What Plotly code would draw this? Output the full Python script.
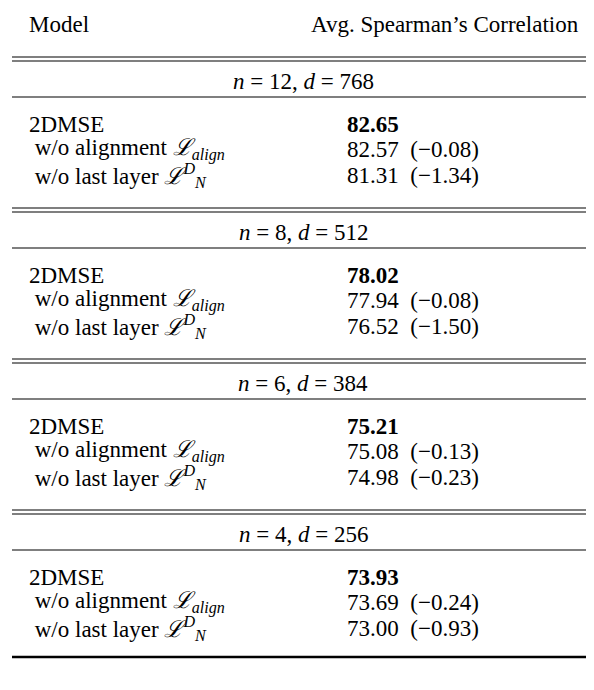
import plotly.graph_objects as go

## Table contents
sections = ["<i>n</i> = 12, <i>d</i> = 768", "<i>n</i> = 8, <i>d</i> = 512",
            "<i>n</i> = 6, <i>d</i> = 384", "<i>n</i> = 4, <i>d</i> = 256"]
row_labels = ["2DMSE",
              " w/o alignment <i>ℒ<sub>align</sub></i>",
              " w/o last layer <i>ℒ<sup>D</sup><sub>N</sub></i>"]
full_scores = [82.65, 78.02, 75.21, 73.93]
align_scores = [82.57, 77.94, 75.08, 73.69]
last_scores = [81.31, 76.52, 74.98, 73.00]

W, H = 594, 690
OFF = 8  # page body margin
FONT = "Liberation Serif"
FS = 23
pitch = 151

fig = go.Figure()
ann = []
shapes = []

def rule(y, w=1.5):
    shapes.append(dict(type="line", x0=12, x1=W, y0=y, y1=y,
                       line=dict(color="black", width=w)))

def txt(x, y, s, anchor="left"):
    ann.append(dict(x=x, y=y, text=s, showarrow=False, xanchor=anchor,
                    yanchor="middle", borderpad=0,
                    font=dict(family=FONT, size=FS, color="black")))

rule(5, 2.5)
txt(28, 24, "Model")
txt(580, 24, "Avg. Spearman’s Correlation", "right")

for i, sec in enumerate(sections):
    y0 = 57 + i * pitch
    rule(y0, 1.2)
    rule(y0 + 4, 1.2)
    txt(W / 2 + 6, y0 + 24, sec, "center")
    rule(y0 + 40, 1.2)
    txt(28, y0 + 67, row_labels[0])
    txt(346, y0 + 67, "<b>%.2f</b>" % full_scores[i])
    for j, sc in enumerate([align_scores[i], last_scores[i]]):
        d = sc - full_scores[i]
        txt(28, y0 + 92 + 26 * j, row_labels[j + 1])
        txt(346, y0 + 92 + 26 * j, "%.2f  (−%.2f)" % (sc, abs(d)))

rule(657, 2.5)

fig.update_layout(width=W - OFF, height=H - OFF, margin=dict(l=0, r=0, t=0, b=0),
                  plot_bgcolor="white", paper_bgcolor="white",
                  annotations=ann, shapes=shapes,
                  xaxis=dict(range=[OFF, W], visible=False, fixedrange=True),
                  yaxis=dict(range=[H, OFF], visible=False, fixedrange=True))
fig.write_html("out.html")
